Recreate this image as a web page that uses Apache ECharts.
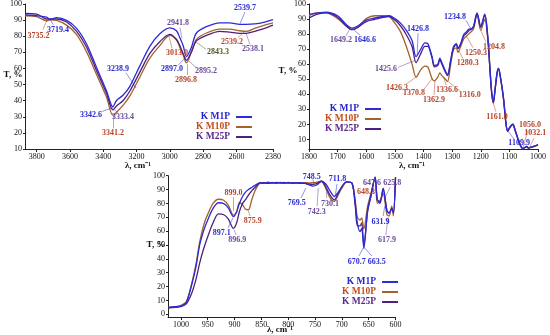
<!DOCTYPE html>
<html><head><meta charset="utf-8">
<script src="https://cdn.jsdelivr.net/npm/echarts@6/dist/echarts.min.js"></script>
<style>html,body{margin:0;padding:0;background:#fff}#c{width:550px;height:335px}</style>
</head><body><div id="c"></div>
<script>
const seriesNames = ['K M1P', 'K M10P', 'K M25P'];

// ---- Panel 1 (3870-2380 cm-1)
const p1Wave = [3870,3800,3740,3720,3680,3620,3560,3500,3440,3380,3342,3320,3280,3240,3180,3120,3060,3000,2960,2940,2920,2900,2870,2840,2780,2700,2640,2580,2540,2490,2430,2380];
const p1M1P  = [93.2,92.7,91.8,90.5,91.5,89.8,84.9,75.2,60.6,46.0,36.2,40.1,43.5,48.9,61.6,73.7,81.5,85.2,83.4,79.1,74.2,67.4,73.2,82.0,85.9,88.3,88.3,87.3,87.3,87.6,88.8,90.3];
const p1M10P = [92.7,92.2,89.6,90.2,89.8,86.9,81.0,70.3,56.2,42.1,30.9,32.8,37.2,43.0,54.7,66.4,74.2,80.5,77.6,73.2,68.4,63.5,70.3,78.1,82.0,84.4,84.4,83.4,83.0,84.9,86.9,88.3];
const p1M25P = [94.1,93.7,90.7,90.7,90.7,88.8,83.0,73.2,58.6,44.5,34.3,36.7,40.1,46.0,57.7,69.3,76.6,81.2,78.1,74.2,69.3,65.0,70.3,77.1,80.5,83.0,82.5,81.8,81.8,83.0,84.9,86.9];
const p1XTicks = [3800,3600,3400,3200,3000,2800,2600,2380];
const p1YTicks = [10,20,30,40,50,60,70,80,90,100];

// ---- Panel 2 (1800-1000 cm-1)
const p2Wave = [1800,1770,1740,1700,1670,1650,1630,1600,1570,1540,1520,1500,1480,1460,1440,1426,1410,1395,1385,1370,1362,1350,1343,1336,1325,1316,1305,1295,1285,1280,1270,1260,1250,1240,1234,1225,1213,1200,1186,1175,1168,1162,1156,1150,1143,1138,1130,1120,1112,1106,1098,1088,1080,1070,1060,1053,1046,1040,1034,1025,1012,1000];
const p2M1P  = [93.2,94.1,94.6,92.2,86.4,84.0,85.4,89.3,90.7,91.7,92.2,90.3,87.3,82.5,75.7,65.0,69.8,74.2,73.7,65.0,59.2,60.1,64.0,61.1,56.2,53.3,63.0,71.8,73.7,70.8,73.7,79.6,81.5,83.5,83.5,85.4,94.1,85.4,93.2,77.6,58.2,42,35,43.6,54.3,57.2,50.4,36.8,21.2,15.9,18.3,20.3,16.4,10.6,5.7,4.2,4.7,5.5,4.5,4.7,5.7,6.7];
const p2M10P = [92.2,94.1,94.1,90.3,85.4,83.0,84.4,90.3,92.2,92.2,91.7,87.3,81.5,71.8,60.1,51.4,56.2,58.7,58.2,50.4,49.0,51.4,54.3,52.4,50.4,48.5,60.1,69.8,70.8,67.9,71.8,76.6,78.6,80.5,81.5,83.5,93.2,82.5,89.8,75.7,56.2,41,34,42.6,53.3,56.2,49.4,35.8,20.3,15.4,17.8,19.8,15.9,10.1,5.2,3.8,4.5,5.2,4.2,4.7,5.5,6.2];
const p2M25P = [90.7,93.2,94.1,91.2,85.4,83.0,84.4,88.3,89.8,91.2,91.7,89.3,85.4,79.6,71.8,61.1,66.9,71.8,71.8,64.0,58.2,59.2,63.0,60.1,55.3,52.4,62.1,70.8,73.2,70.3,73.2,78.6,80.5,82.5,83.0,84.9,93.7,84.4,92.7,76.6,57.2,41.5,34.5,43.1,54.3,57.2,49.9,36.3,20.8,15.4,18.3,20.1,16.2,10.4,5.5,4.0,4.7,5.5,4.5,4.9,5.7,6.5];
const p2XTicks = [1800,1700,1600,1500,1400,1300,1200,1100,1000];
const p2YTicks = [10,20,30,40,50,60,70,80,90,100];

// ---- Panel 3 (1024-600 cm-1)
const p3Wave = [1024,1010,1000,990,980,972,965,957,949,940,930,921,912,902,896,891,885,880,874,868,862,853,845,838,830,822,815,808,800,792,785,778,770,762,754,746,738,730,722,714,707,700,691,681,675,671,666,663,659,652,646,638,634,629,623,616,612,607,604,600];
const p3M1P  = [5,5.5,6,8.5,21,34,50,61,69,76.5,80.5,80,77,70.5,74,80,85,88,90,91.5,93,94.8,94.5,95.3,94.6,95.2,94.7,95.1,94.6,95,94.7,95,94.6,93.5,92.5,93.5,96,94,89,85,88,92,95.5,94.5,80,65.6,59.6,62,47.6,75,85,99,83,80,90,75,73,76.5,73,99];
const p3M10P = [5,5.5,6.5,9,22,36,52,65,73,80,83,82.5,79,71.6,74,80.5,79,76,75.5,82.5,89,94.5,94.8,94.5,95.2,94.6,95,94.5,95.1,94.6,95,94.6,95,94.8,95,95.3,96,91,84,81.5,86,91,95.5,94.5,82,70,68,69.6,61.6,78,87,98,80,82,87,72,71,78,71,98];
const p3M25P = [4.5,5,5.5,7.5,15,25,37,48,57,66,72.4,72,69,62,66,74,80,82.5,86,89,91.5,94.8,95,94.4,95,94.5,95.1,94.6,95,94.5,94.9,94.4,94.5,94,93.8,94.5,96,92,86,82.6,87,92,95.5,94.5,78,63.8,63.8,66,50,74,85,99,83,81,91,75,73,76,74,99];
const p3XTicks = [1000,950,900,850,800,750,700,650,600];
const p3YTicks = [0,10,20,30,40,50,60,70,80,90,100];

// ---- Peak annotations: [text, colour key, text x, text y, leader x1, y1, x2, y2]
const p1Notes = [
  ['3735.2','r',3789,80.4,3762,84.1,3740,89.6],
  ['3719.4','b',3672,84.1,3700,87.1,3720,90.5],
  ['3238.9','b',3311,59.6,3263,57.3,3203,47.8],
  ['3342.6','b',3473,31.4,3407,33.3,3341,35.7],
  ['3333.4','p',3281,30.2,3311,32.6,3338,34.6],
  ['3341.2','r',3341,19.8,3341,22.8,3341,30.6],
  ['3013.0','r',2957,69.4,2987,72.4,3005,80.2],
  ['2941.8','p',2951,88.4,2939,85.3,2927,78.6],
  ['2897.0','b',2987,59.6,2951,62.0,2903,66.9],
  ['2896.8','r',2903,52.8,2897,55.9,2897,62.6],
  ['2895.2','p',2783,58.4,2837,60.2,2885,64.5],
  ['2843.3','o',2710,70.0,2782,71.8,2843,76.5],
  ['2539.7','b',2548,97.6,2548,95.1,2578,87.8],
  ['2539.2','r',2626,76.7,2590,79.2,2548,83.0],
  ['2538.1','p',2500,71.8,2518,74.9,2542,81.8]
];
const p2Notes = [
  ['1649.2','p',1688,76.4,1671,78.8,1657,83.5],
  ['1646.6','b',1604,76.4,1622,79.4,1650,83.8],
  ['1426.8','b',1419,83.6,1419,80.7,1422,66],
  ['1425.6','p',1531,56.8,1489,57.9,1430,62.5],
  ['1426.3','r',1493,44.2,1461,46.8,1426,51.4],
  ['1370.8','r',1433,40.9,1398,43.5,1370,50.4],
  ['1362.9','r',1363,36.4,1363,39.6,1360,49.2],
  ['1336.6','r',1318,42.9,1321,46.2,1330,51.5],
  ['1316.0','r',1238,39.6,1273,42.2,1314,48.5],
  ['1280.3','r',1245,60.7,1262,63.8,1277,69],
  ['1250.3','r',1217,67.2,1227,71.0,1250,78.6],
  ['1234.8','b',1290,91.2,1252,89.2,1234,83.5],
  ['1204.8','r',1154,71.6,1182,74.9,1200,82.5],
  ['1161.0','r',1143,25.3,1147,28.5,1156,34],
  ['1109.9','b',1066,7.6,1084,10.2,1104,15.5],
  ['1056.0','r',1028,19.4,1035,16.1,1053,4.5],
  ['1032.1','r',1010,14.2,1014,10.9,1030,4.6]
];
const p3Notes = [
  ['899.0','r',902,87.7,902.9,84.6,902.9,74.5],
  ['875.9','r',866,67.3,871,70.9,875,75.3],
  ['897.1','b',924,58.9,912,62.3,903,69.5],
  ['896.9','p',895,53.6,897,57.2,901,61],
  ['769.5','b',784,80.5,776,83.9,767,91.1],
  ['748.5','b',756,99.3,754,97.5,752,94],
  ['742.3','p',747,74.0,746,78.1,744,91.1],
  ['730.1','p',722,79.6,728,84,730,94.5],
  ['711.8','b',708,97.4,709,94.0,712,86],
  ['648.3','r',655,88.5,null,null,null,null],
  ['647.6','p',644,94.5,null,null,null,null],
  ['625.8','p',606,94.5,610,91.7,620,84],
  ['631.9','b',628,66.8,623,70.9,620,78],
  ['617.9','p',616,53.6,618,57.2,614,70],
  ['670.7','b',672,37.9,668,42.1,660,48],
  ['663.5','b',635,37.9,644,42.1,658,48]
];

const FONT = '"Liberation Serif", "DejaVu Serif", serif';
const lineColors = ['#2b2bd8', '#a4622c', '#4e1f7e'];
const legendText = ['#2525c8', '#c0501e', '#5a2a8a'];
const noteColors = {b: '#2a2ad0', r: '#b5452a', p: '#6a4a9a', o: '#4d5a22'};

const grids = [
  {left: 25, top: 2, width: 248, height: 147},
  {left: 309, top: 1.5, width: 229, height: 147.5},
  {left: 168, top: 175.7, width: 227.5, height: 141.4}
];

const plain = v => String(v);
function xAx(gi, min, max, ticks) {
  return {type: 'value', gridIndex: gi, min: min, max: max, inverse: true,
    axisLine: {show: true, onZero: false, lineStyle: {color: '#222', width: 1}},
    axisTick: {show: true, customValues: ticks, length: 3, lineStyle: {color: '#222'}},
    axisLabel: {customValues: ticks, formatter: plain, fontSize: 8, fontFamily: FONT, color: '#111', margin: 4},
    splitLine: {show: false}};
}
function yAx(gi, min, max, ticks) {
  return {type: 'value', gridIndex: gi, min: min, max: max,
    axisLine: {show: true, onZero: false, lineStyle: {color: '#222', width: 1}},
    axisTick: {show: true, customValues: ticks, length: 2, lineStyle: {color: '#222'}},
    axisLabel: {customValues: ticks, formatter: plain, fontSize: 8, fontFamily: FONT, color: '#111', margin: 3},
    splitLine: {show: false}};
}
function mkSeries(gi, wave, vals, k) {
  return {type: 'line', name: seriesNames[k], xAxisIndex: gi, yAxisIndex: gi,
    data: wave.map((w, i) => [w, vals[i]]),
    showSymbol: false, symbol: 'none', smooth: 0.3, animation: false,
    lineStyle: {width: 1.3, color: lineColors[k]}, itemStyle: {color: lineColors[k]}};
}
function withNotes(s, notes) {
  s.markPoint = {symbol: 'circle', symbolSize: 0, silent: true, animation: false,
    data: notes.map(n => ({coord: [n[2], n[3]],
      label: {show: true, position: 'inside', formatter: n[0], color: noteColors[n[1]],
        fontSize: 8, fontWeight: 'bold', fontFamily: FONT}}))};
  s.markLine = {symbol: ['none', 'none'], silent: true, animation: false, label: {show: false},
    data: notes.filter(n => n[4] !== null).map(n => [
      {coord: [n[4], n[5]], lineStyle: {color: noteColors[n[1]], width: 0.6, type: 'solid', opacity: 0.85}},
      {coord: [n[6], n[7]]}])};
  return s;
}
function legendAt(left, top) {
  return {orient: 'vertical', left: left, top: top, align: 'right', icon: 'rect',
    itemWidth: 16, itemHeight: 2, itemGap: 0, padding: 0, selectedMode: false,
    data: seriesNames.map((n, k) => ({name: n, textStyle: {color: legendText[k]}, itemStyle: {color: lineColors[k]}})),
    textStyle: {fontFamily: FONT, fontSize: 9.5, fontWeight: 'bold', lineHeight: 9.5, padding: [0, 1, 0, 0]}};
}
function label(x, y, text) {
  return {type: 'text', x: x, y: y, silent: true,
    style: {text: text, font: 'bold 9px "Liberation Serif"', fill: '#111', align: 'center', verticalAlign: 'middle'}};
}

const panels = [
  {wave: p1Wave, vals: [p1M1P, p1M10P, p1M25P], notes: p1Notes},
  {wave: p2Wave, vals: [p2M1P, p2M10P, p2M25P], notes: p2Notes},
  {wave: p3Wave, vals: [p3M1P, p3M10P, p3M25P], notes: p3Notes}
];
const series = [];
panels.forEach((p, gi) => {
  [1, 2, 0].forEach(k => {
    const s = mkSeries(gi, p.wave, p.vals[k], k);
    if (k === 0) withNotes(s, p.notes);
    series.push(s);
  });
});

const option = {
  backgroundColor: '#fff',
  animation: false,
  grid: grids,
  xAxis: [xAx(0, 2380, 3870, p1XTicks), xAx(1, 1000, 1800, p2XTicks), xAx(2, 600, 1024, p3XTicks)],
  yAxis: [yAx(0, 10, 100, p1YTicks), yAx(1, 3.7, 100, p2YTicks), yAx(2, -2, 100, p3YTicks)],
  legend: [legendAt(196, 112), legendAt(325, 104), legendAt(342, 277)],
  series: series,
  graphic: [
    label(13, 75, 'T, %'), label(288, 71, 'T, %'), label(156, 245, 'T, %'),
    label(138, 166, 'λ, cm⁻¹'), label(412, 166, 'λ, cm⁻¹'), label(280, 330, 'λ, cm⁻¹')
  ]
};
const chart = echarts.init(document.getElementById('c'), null, {renderer: 'canvas'});
chart.setOption(option);
</script>
</body></html>
